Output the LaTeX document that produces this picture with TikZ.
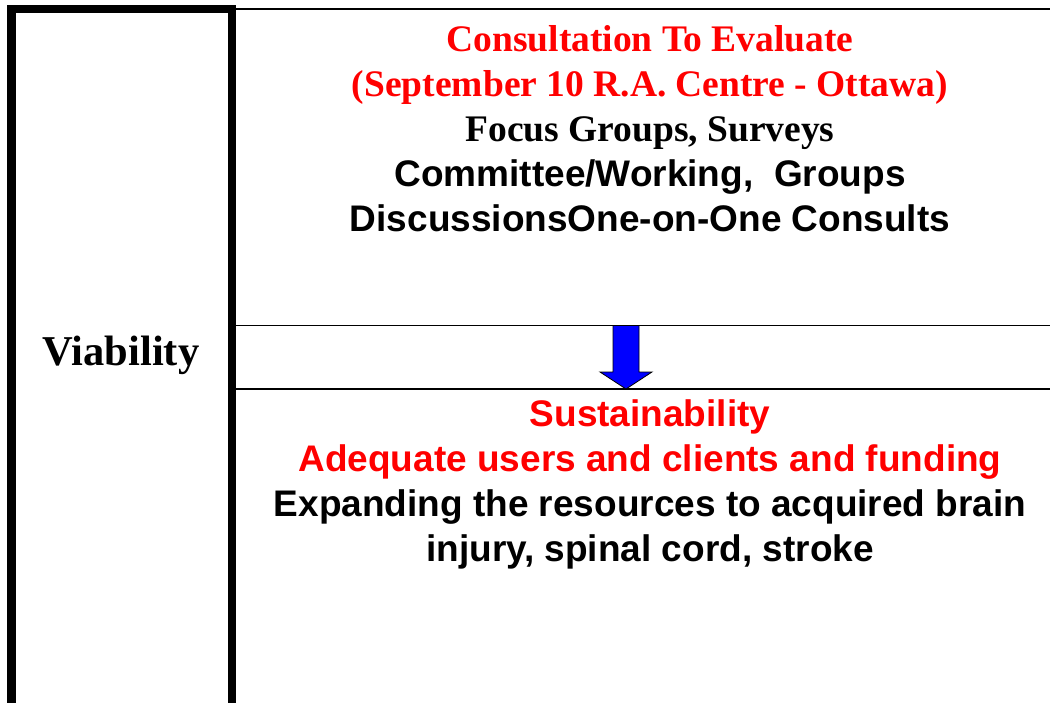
\documentclass[tikz,border=0pt]{standalone}
\usepackage{fontspec}
\setmainfont{Liberation Serif}
\setsansfont{Liberation Sans}
\usetikzlibrary{positioning}
\usepackage{xcolor}
\definecolor{vbred}{RGB}{255,0,0}
\definecolor{vbblue}{RGB}{0,0,255}
\tikzset{
    rule/.style={line width=1.6pt,draw=black},
    sidebox/.style={draw=black,line width=8.5pt,inner sep=0pt,outer sep=0pt},
    bigtext/.style={align=center,inner sep=0pt,
        font=\fontsize{37.5}{45}\selectfont\bfseries},
    downarrow/.style={draw=black,line width=0.8pt,fill=vbblue}
}

\begin{document}
\begin{tikzpicture}[x=1pt,y=-1pt]

\useasboundingbox (0,0) rectangle (1050,702);
\clip (0,0) rectangle (1050,702);

% left column
\node[sidebox,minimum width=220.5pt,minimum height=720pt,anchor=north west]
(viabox) at (11.5,9) {};
\node[bigtext,anchor=base,font=\fontsize{42.5}{50}\selectfont\bfseries]
(viab) at (121,365) {Viability};

% rules on the right
\coordinate (topL) at (232,9);
\coordinate (topR) at (1050,9);
\coordinate (midAL) at (236,325.5);
\coordinate (midAR) at (1050,325.5);
\coordinate (midBL) at (236,389);
\coordinate (midBR) at (1050,389);
\draw[rule] (topL) -- (topR);
\draw[rule] (midAL) -- (midAR);
\draw[rule] (midBL) -- (midBR);

\node[bigtext,anchor=north] (consult) at (650,25)
{\textcolor{vbred}{Consultation To Evaluate}\\
\textcolor{vbred}{(September 10 R.A. Centre - Ottawa)}\\
Focus Groups, Surveys\\
{\sffamily\fontsize{37}{45}\selectfont Committee/Working,\ \ Groups}\\
{\sffamily\fontsize{37}{45}\selectfont DiscussionsOne-on-One Consults}};

% block arrow between the rules
\coordinate (arrtip) at (626,389);
\draw[downarrow] (613,325.5) -- (639,325.5) -- (639,372) -- (652,372)
    -- (arrtip) -- (600,372) -- (613,372) -- cycle;

\node[bigtext,anchor=north,font=\fontsize{37}{45}\selectfont\sffamily\bfseries]
(sustain) at (650,399)
{\textcolor{vbred}{Sustainability}\\
\textcolor{vbred}{Adequate users and clients and funding}\\
Expanding the resources to acquired brain\\
injury, spinal cord, stroke};

\end{tikzpicture}
\end{document}
